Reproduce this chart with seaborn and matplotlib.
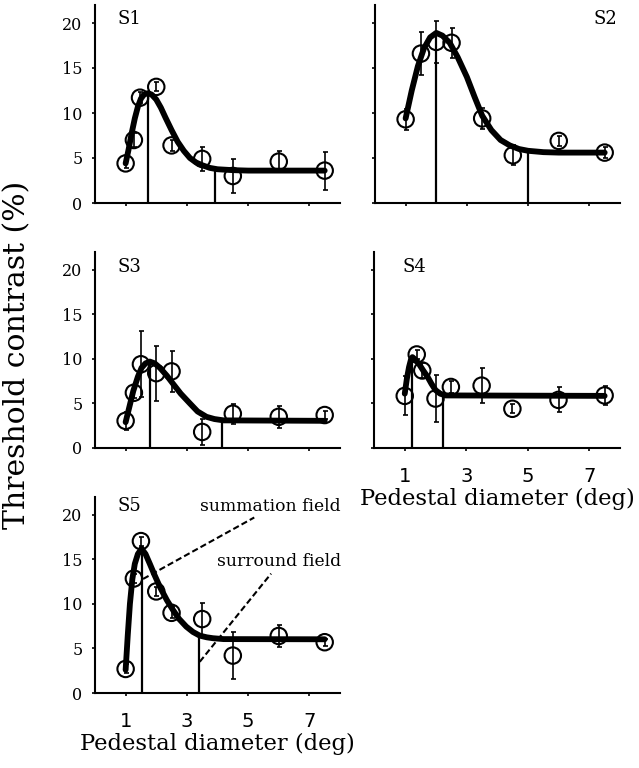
import numpy as np
import pandas as pd
import matplotlib
matplotlib.use("Agg")
import matplotlib.pyplot as plt
import seaborn as sns

# ---------------- data ----------------
subjects = ["S1", "S2", "S3", "S4", "S5"]

# measured thresholds
s1_x = [1.0, 1.27, 1.47, 2.0, 2.5, 3.5, 4.5, 6.0, 7.5]
s1_y = [4.4, 7.0, 11.7, 12.9, 6.4, 4.9, 3.0, 4.6, 3.6]
s1_e = [0.5, 0.8, 0.6, 0.5, 0.6, 1.3, 1.9, 1.2, 2.1]

s2_x = [1.0, 1.5, 2.0, 2.5, 3.5, 4.5, 6.0, 7.5]
s2_y = [9.3, 16.6, 17.9, 17.8, 9.4, 5.3, 6.9, 5.6]
s2_e = [1.2, 2.4, 2.3, 1.7, 1.2, 1.1, 0.6, 0.6]

s3_x = [1.0, 1.27, 1.5, 2.0, 2.5, 3.5, 4.5, 6.0, 7.5]
s3_y = [3.05, 6.2, 9.4, 8.4, 8.6, 1.8, 3.85, 3.5, 3.7]
s3_e = [1.0, 0.6, 3.7, 3.1, 2.3, 1.5, 1.1, 1.2, 0.5]

s4_x = [1.0, 1.39, 1.57, 2.0, 2.5, 3.5, 4.5, 6.0, 7.5]
s4_y = [5.85, 10.5, 8.7, 5.55, 6.85, 7.0, 4.4, 5.4, 5.9]
s4_e = [2.2, 0.5, 0.8, 2.6, 0.7, 2.0, 0.5, 1.4, 1.1]

s5_x = [1.0, 1.27, 1.5, 2.0, 2.5, 3.5, 4.5, 6.0, 7.5]
s5_y = [2.7, 12.85, 17.05, 11.4, 9.0, 8.3, 4.2, 6.4, 5.7]
s5_e = [0.5, 0.5, 0.5, 0.5, 0.6, 1.8, 2.6, 1.2, 0.4]

# fitted curves
s1_cx = [1.0, 1.1, 1.2, 1.3, 1.4, 1.5, 1.6, 1.72, 1.85, 2.0, 2.15, 2.3, 2.5, 2.7, 2.9, 3.1, 3.3, 3.5, 3.75, 4.0, 4.5, 5.0, 7.5]
s1_cy = [4.4, 6.0, 7.8, 9.4, 10.7, 11.6, 12.05, 12.2, 12.05, 11.5, 10.6, 9.5, 8.1, 6.8, 5.8, 5.0, 4.5, 4.2, 3.9, 3.75, 3.65, 3.6, 3.6]

s2_cx = [1.0, 1.2, 1.4, 1.6, 1.8, 2.0, 2.2, 2.44, 2.7, 3.0, 3.25, 3.5, 3.8, 4.1, 4.4, 4.7, 5.0, 5.5, 6.0, 7.5]
s2_cy = [9.4, 12.5, 15.2, 17.2, 18.4, 18.9, 18.6, 17.8, 16.2, 14.0, 11.8, 9.7, 8.1, 7.0, 6.4, 6.0, 5.8, 5.65, 5.6, 5.6]

s3_cx = [1.0, 1.1, 1.25, 1.4, 1.52, 1.65, 1.79, 1.95, 2.12, 2.35, 2.55, 2.8, 3.1, 3.35, 3.64, 3.9, 4.2, 7.5]
s3_cy = [2.9, 4.3, 6.4, 8.0, 9.0, 9.5, 9.7, 9.5, 9.0, 8.1, 7.2, 6.1, 5.0, 4.1, 3.5, 3.25, 3.1, 3.05]

s4_cx = [1.0, 1.07, 1.14, 1.2, 1.25, 1.35, 1.47, 1.6, 1.74, 1.87, 2.0, 2.15, 2.33, 7.5]
s4_cy = [6.1, 7.8, 9.1, 9.9, 10.2, 9.9, 9.4, 8.7, 8.0, 7.2, 6.5, 6.1, 5.9, 5.85]

s5_cx = [1.0, 1.07, 1.14, 1.22, 1.3, 1.4, 1.52, 1.65, 1.79, 1.95, 2.12, 2.35, 2.55, 2.75, 2.98, 3.2, 3.42, 3.65, 3.85, 4.2, 7.5]
s5_cy = [2.6, 6.5, 10.0, 12.8, 14.5, 15.6, 16.2, 15.6, 14.5, 13.2, 11.9, 10.4, 9.3, 8.3, 7.45, 6.85, 6.44, 6.25, 6.15, 6.05, 6.03]

# summation / surround field markers (x position, height reached)
field_x = [[1.74, 3.93], [1.99, 5.0], [1.79, 4.15], [1.25, 2.23], [1.52, 3.4]]
field_top = [[12.2, 3.8], [18.9, 5.8], [9.7, 3.1], [10.2, 6.0], [16.2, 6.45]]

x_ticks = [1, 3, 5, 7]
y_ticks = [0, 5, 10, 15, 20]
x_label = "Pedestal diameter (deg)"
y_label = "Threshold contrast (%)"
ann_labels = ["summation field", "surround field"]

# ---------------- style ----------------
sns.set_theme(style="ticks")
plt.rcParams["font.family"] = ["DejaVu Serif"]
plt.rcParams["axes.linewidth"] = 1.5
plt.rcParams["xtick.major.width"] = 1.2
plt.rcParams["ytick.major.width"] = 1.2
for key in ["text.color", "axes.labelcolor", "xtick.color", "ytick.color",
            "axes.edgecolor", "xtick.labelcolor", "ytick.labelcolor"]:
    plt.rcParams[key] = "black"

fig = plt.figure(figsize=(6.39, 7.68), dpi=100)
W, H = 639.0, 768.0

# axes placement (pixels: left, top, right, bottom)
boxes = [(95, 5, 340, 203), (375, 5, 620, 203),
         (95, 252, 340, 448), (374, 252, 620, 448),
         (95, 497, 340, 693)]

pts = [(s1_x, s1_y, s1_e), (s2_x, s2_y, s2_e), (s3_x, s3_y, s3_e),
       (s4_x, s4_y, s4_e), (s5_x, s5_y, s5_e)]
curves = [(s1_cx, s1_cy), (s2_cx, s2_cy), (s3_cx, s3_cy), (s4_cx, s4_cy), (s5_cx, s5_cy)]

label_pos = [(0.09, 0.93, "left"), (0.988, 0.93, "right"), (0.09, 0.925, "left"),
             (0.115, 0.925, "left"), (0.09, 0.955, "left")]

show_ylab = [True, False, True, False, True]
show_xlab = [False, False, False, True, True]

axes = []
for i, (l, t, r, b) in enumerate(boxes):
    ax = fig.add_axes([l / W, 1 - b / H, (r - l) / W, (b - t) / H])
    axes.append(ax)
    px, py, pe = pts[i]
    cx, cy = curves[i]

    ax.vlines(field_x[i], 0, field_top[i], color="black", lw=1.6, zorder=2)
    sns.lineplot(x=cx, y=cy, ax=ax, color="black", lw=4.2, sort=False,
                 estimator=None, zorder=3)
    ax.errorbar(px, py, yerr=pe, fmt="none", ecolor="black", elinewidth=1.2,
                capsize=1.8, capthick=1.2, zorder=4)
    sns.scatterplot(x=px, y=py, ax=ax, marker="o", s=140, facecolor="none",
                    edgecolor="black", linewidth=1.5, zorder=5)

    ax.set_xlim(0, 8)
    ax.set_ylim(0, 22)
    ax.set_xticks(x_ticks)
    ax.set_yticks(y_ticks)
    sns.despine(ax=ax)
    ax.tick_params(axis="both", direction="out", length=2.5, color="black")
    ax.tick_params(axis="y", pad=6.5, labelsize=11.5, labelleft=show_ylab[i])
    ax.tick_params(axis="x", pad=11, labelbottom=show_xlab[i])
    for lab in ax.get_xticklabels():
        lab.set_family("DejaVu Sans")
        lab.set_fontsize(14)
    ax.set_xlabel("")
    ax.set_ylabel("")
    if show_xlab[i]:
        ax.set_xlabel(x_label, fontsize=16.3, va="baseline")
        ax.xaxis.set_label_coords(0.5, -57 / (b - t))

    lx, ly, ha = label_pos[i]
    ax.text(lx, ly, subjects[i], transform=ax.transAxes, ha=ha, va="center",
            fontsize=13)

# annotations on S5
ax5 = axes[4]
ax5.text(8.03, 20.9, ann_labels[0], ha="right", va="center", fontsize=12.3, clip_on=False)
ax5.text(8.03, 14.8, ann_labels[1], ha="right", va="center", fontsize=12.3, clip_on=False)
ax5.plot([1.57, 5.2], [12.8, 19.7], color="black", lw=1.5, ls=(0, (3, 1.5)), zorder=3)
ax5.plot([3.42, 5.75], [3.5, 13.4], color="black", lw=1.5, ls=(0, (3, 1.5)), zorder=3)

fig.text(17 / W, 1 - 355 / H, y_label, rotation=90, ha="center", va="center",
         fontsize=21.5)

fig.savefig("out.png", dpi=100)
